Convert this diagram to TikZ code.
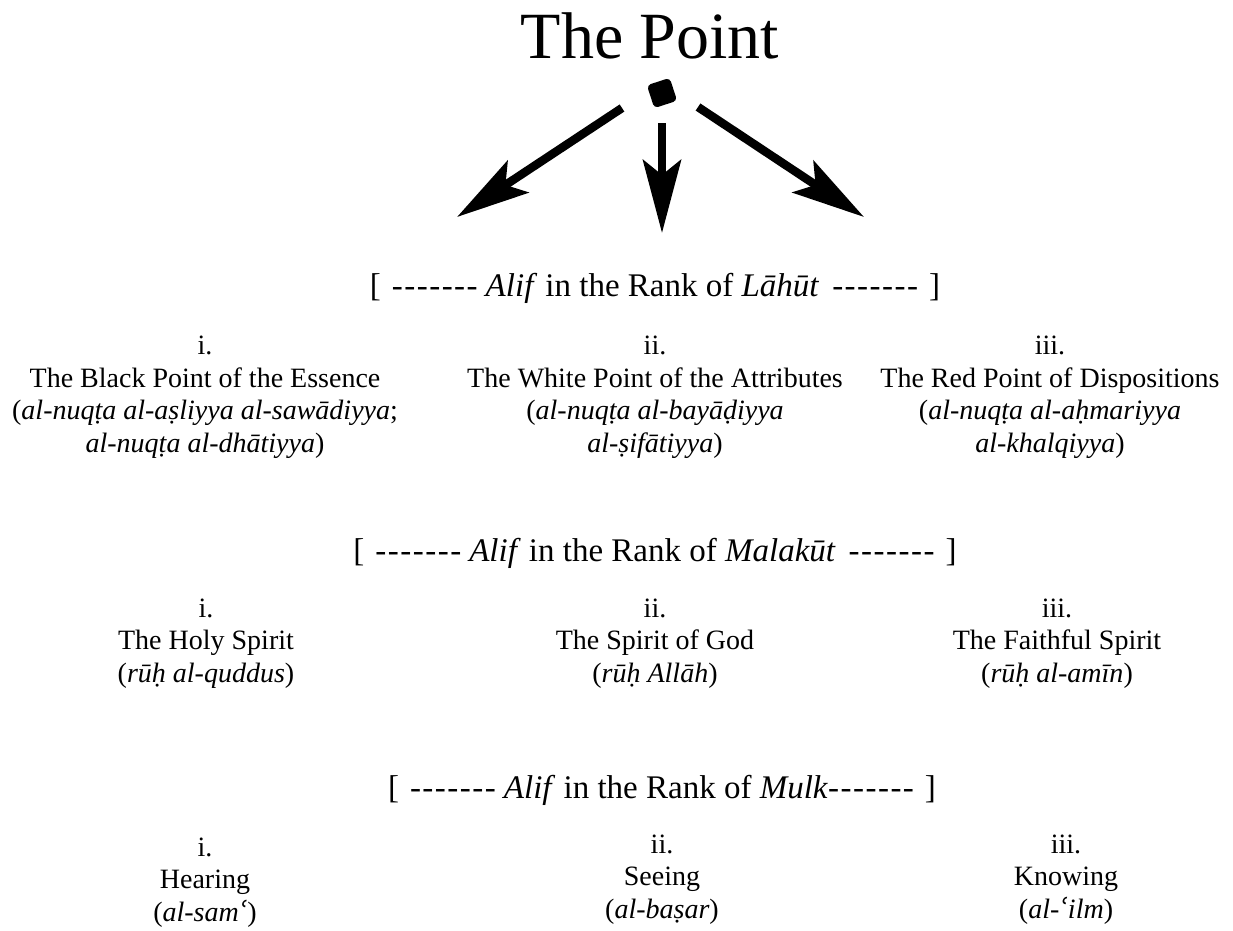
\documentclass[tikz,border=0pt]{standalone}
\usepackage{fontspec}
\setmainfont{Liberation Serif}
\newfontfamily\aynfont{DejaVu Serif}
\usepackage{tikz}
\usetikzlibrary{arrows.meta}

\newcommand{\ayn}{{\aynfont ʿ}}
\newcommand{\dashrun}{-\kern1.5pt-\kern1.5pt-\kern1.5pt-\kern1.5pt-\kern1.5pt-\kern1.5pt-}

\tikzset{
  bigtitle/.style={font=\fontsize{66}{70}\selectfont, anchor=base, inner sep=0pt},
  rankline/.style={font=\fontsize{33}{38}\selectfont, anchor=base, inner sep=0pt},
  entry/.style={font=\fontsize{28}{32.5}\selectfont, align=center, anchor=base, inner sep=0pt},
  pointdot/.style={rectangle, fill=black, minimum size=24pt, inner sep=0pt, rounded corners=4pt, rotate=18},
  bigarrow/.style={line width=8.5pt, -{Stealth[length=73pt, width=38pt, inset=15pt]}}
}

\begin{document}
\begin{tikzpicture}[x=1pt, y=-1pt]
\useasboundingbox (0,0) rectangle (1233,930);

% the point
\node [bigtitle] (title) at (650,58) {The Point};
\node [pointdot] (point) at (662,93) {};

\coordinate (left-from) at (622,108);
\coordinate (left-to) at (457,217);
\coordinate (mid-from) at (662,123);
\coordinate (mid-to) at (662,233);
\coordinate (right-from) at (698,107);
\coordinate (right-to) at (864,217);

\draw [bigarrow] (left-from) -- (left-to);
\draw [bigarrow] (mid-from) -- (mid-to);
\draw [bigarrow] (right-from) -- (right-to);

% lahut (entries placed by their last baseline)
\node [rankline] (lahut) at (655,296)
{[\hspace{11pt}\dashrun\hspace{8pt}\textit{Alif} in the Rank of \textit{Lāhūt}\hspace{13pt}\dashrun\hspace{11pt}]};

\node [entry] (lahut-1) at (205,452)
{i.\\The Black Point of the Essence\\(\textit{al-nuqṭa al-aṣliyya al-sawādiyya};\\\textit{al-nuqṭa al-dhātiyya})};
\node [entry] (lahut-2) at (655,452)
{ii.\\The White Point of the Attributes\\(\textit{al-nuqṭa al-bayāḍiyya}\\\textit{al-ṣifātiyya})};
\node [entry] (lahut-3) at (1050,452)
{iii.\\The Red Point of Dispositions\\(\textit{al-nuqṭa al-aḥmariyya}\\\textit{al-khalqiyya})};

% malakut
\node [rankline] (malakut) at (655,561)
{[\hspace{11pt}\dashrun\hspace{8pt}\textit{Alif} in the Rank of \textit{Malakūt}\hspace{13pt}\dashrun\hspace{11pt}]};

\node [entry] (malakut-1) at (206,682)
{i.\\The Holy Spirit\\(\textit{rūḥ al-quddus})};
\node [entry] (malakut-2) at (655,682)
{ii.\\The Spirit of God\\(\textit{rūḥ Allāh})};
\node [entry] (malakut-3) at (1057,682)
{iii.\\The Faithful Spirit\\(\textit{rūḥ al-amīn})};

% mulk
\node [rankline] (mulk) at (662,798)
{[\hspace{11pt}\dashrun\hspace{8pt}\textit{Alif} in the Rank of \textit{Mulk}\dashrun\hspace{11pt}]};

\node [entry] (mulk-1) at (205,921)
{i.\\Hearing\\(\textit{al-sam\ayn})};
\node [entry] (mulk-2) at (662,918)
{ii.\\Seeing\\(\textit{al-baṣar})};
\node [entry] (mulk-3) at (1066,918)
{iii.\\Knowing\\(\textit{al-\ayn{}ilm})};
\end{tikzpicture}
\end{document}
